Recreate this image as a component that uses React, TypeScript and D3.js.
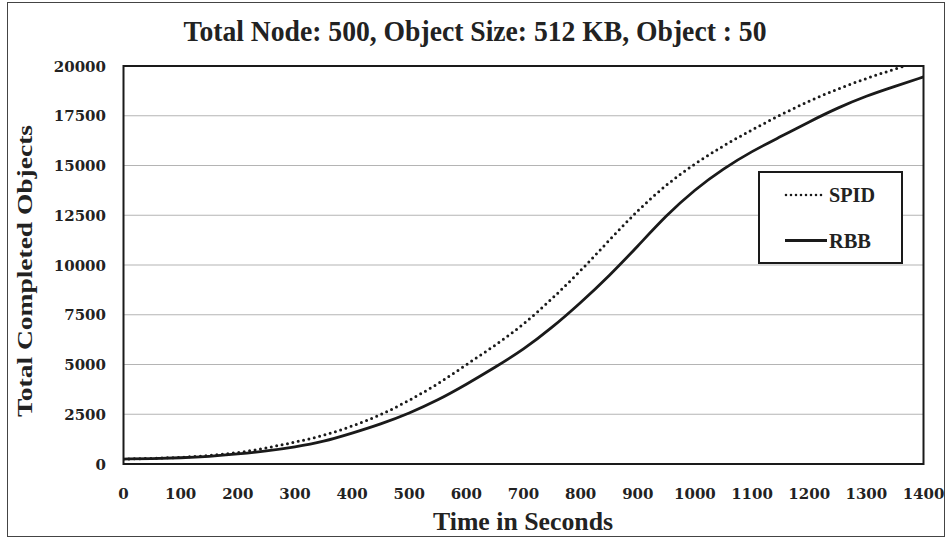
import React from "react";
import * as d3 from "d3";

const times = [0, 50, 100, 150, 200, 250, 300, 350, 400, 450, 500, 550, 600, 650, 700, 750, 800, 850, 900, 950, 1000, 1050, 1100, 1150, 1200, 1250, 1300, 1350, 1400];
const spid = [250, 280, 330, 420, 560, 800, 1100, 1420, 1900, 2450, 3200, 4000, 5000, 5950, 7000, 8300, 9700, 11250, 12750, 14050, 15100, 16000, 16800, 17550, 18250, 18850, 19380, 19850, 20300];
const rbb = [250, 270, 310, 380, 500, 650, 850, 1120, 1550, 2000, 2550, 3200, 4000, 4850, 5750, 6850, 8100, 9450, 10950, 12500, 13800, 14850, 15720, 16450, 17200, 17900, 18500, 18980, 19450];
const xTicks = [0, 100, 200, 300, 400, 500, 600, 700, 800, 900, 1000, 1100, 1200, 1300, 1400];
const yTicks = [0, 2500, 5000, 7500, 10000, 12500, 15000, 17500, 20000];
const title = "Total Node: 500, Object Size: 512 KB, Object : 50";
const xLabel = "Time in Seconds";
const yLabel = "Total Completed Objects";
const seriesNames = ["SPID", "RBB"];

const W = 951, H = 539;
const L = 123.5, R = 923.5, T = 66, B = 464;

export default function App() {
  const x = d3.scaleLinear().domain([0, 1400]).range([L, R]);
  const y = d3.scaleLinear().domain([0, 20000]).range([B, T]);
  const line = d3
    .line<number>()
    .x((_, i) => x(times[i]))
    .y((d) => y(d))
    .curve(d3.curveBasis);
  const font = "'DejaVu Serif', serif";
  const lfont = "'Liberation Serif', serif";
  return (
    <svg width={W} height={H} style={{ position: "absolute", left: 0, top: 0, display: "block", background: "#fff" }}>
      <rect x={0} y={0} width={W} height={H} fill="#fff" />
      <rect x={7.5} y={2.5} width={937} height={534} fill="none" stroke="#444" strokeWidth={1} />
      <defs>
        <clipPath id="plotclip">
          <rect x={L} y={T} width={R - L} height={B - T} />
        </clipPath>
      </defs>
      {yTicks.filter((v) => v > 0 && v < 20000).map((v) => (
        <line key={v} x1={L} x2={R} y1={y(v)} y2={y(v)} stroke="#b4b4b4" strokeWidth={1.2} />
      ))}
      <g clipPath="url(#plotclip)">
        <path d={line(spid) || ""} fill="none" stroke="#1a1a1a" strokeWidth={3} strokeDasharray="0 5.5" strokeLinecap="round" />
        <path d={line(rbb) || ""} fill="none" stroke="#1a1a1a" strokeWidth={2.8} />
      </g>
      <rect x={L} y={T} width={R - L} height={B - T} fill="none" stroke="#1a1a1a" strokeWidth={2} />
      {yTicks.map((v) => (
        <text key={v} x={106} y={y(v) + 5.5} textAnchor="end" fontFamily={font} fontWeight="bold" fontSize={15} fill="#222">
          {v}
        </text>
      ))}
      {xTicks.map((v) => (
        <text key={v} x={x(v)} y={499} textAnchor="middle" fontFamily={font} fontWeight="bold" fontSize={15} fill="#222">
          {v}
        </text>
      ))}
      <text x={475} y={41} textAnchor="middle" fontFamily={lfont} fontWeight="bold" fontSize={29} fill="#222" textLength={583} lengthAdjust="spacingAndGlyphs">
        {title}
      </text>
      <text x={523} y={530} textAnchor="middle" fontFamily={lfont} fontWeight="bold" fontSize={25} fill="#222" textLength={180} lengthAdjust="spacingAndGlyphs">
        {xLabel}
      </text>
      <text transform="translate(32,271) rotate(-90)" textAnchor="middle" fontFamily={lfont} fontWeight="bold" fontSize={22} fill="#222" textLength={292} lengthAdjust="spacingAndGlyphs">
        {yLabel}
      </text>
      <rect x={759} y={172} width={143} height={91} fill="#fff" stroke="#1a1a1a" strokeWidth={2} />
      <line x1={786} x2={822} y1={195} y2={195} stroke="#1a1a1a" strokeWidth={2.6} strokeDasharray="0 5" strokeLinecap="round" />
      <line x1={785} x2={827} y1={240.5} y2={240.5} stroke="#1a1a1a" strokeWidth={2.8} />
      <text x={829} y={201.5} fontFamily={lfont} fontWeight="bold" fontSize={20} fill="#222" textLength={46} lengthAdjust="spacingAndGlyphs">
        {seriesNames[0]}
      </text>
      <text x={829} y={247.5} fontFamily={lfont} fontWeight="bold" fontSize={20} fill="#222" textLength={42} lengthAdjust="spacingAndGlyphs">
        {seriesNames[1]}
      </text>
    </svg>
  );
}
